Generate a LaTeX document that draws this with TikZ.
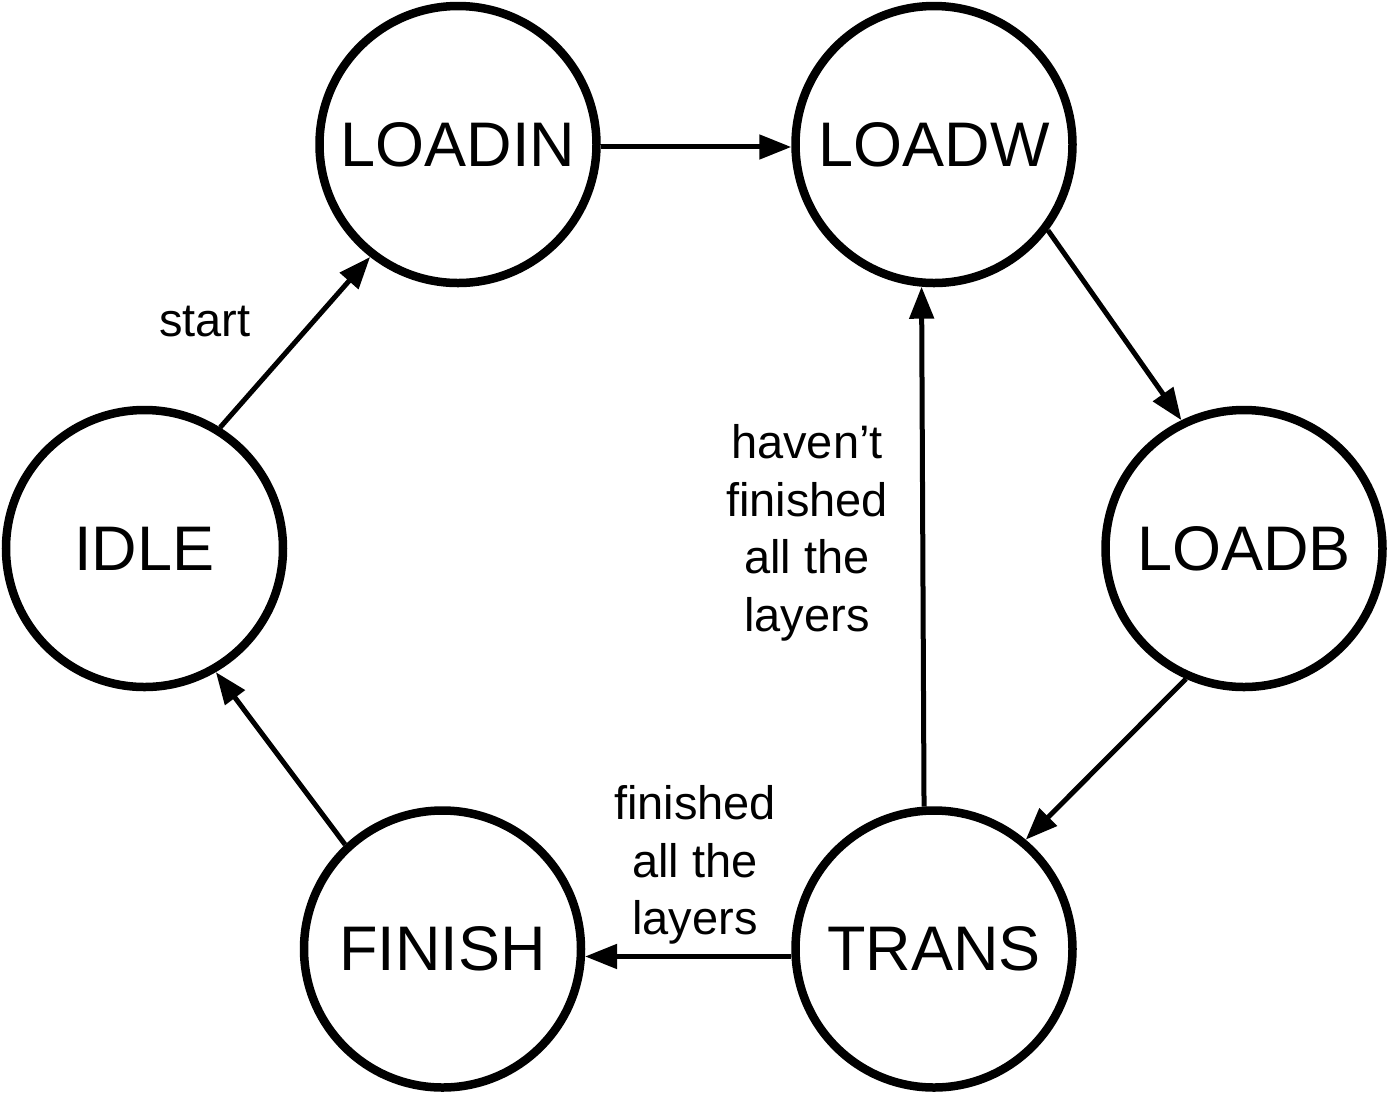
\documentclass[tikz,border=0pt]{standalone}
\usepackage{fontspec}
\setmainfont{Liberation Sans}
\usetikzlibrary{arrows.meta}
\tikzset{
  state/.style={circle, draw=black, line width=4.25pt, minimum size=138.5pt, inner sep=0pt,
    font=\fontsize{31.5}{36}\selectfont},
  conn/.style={line width=2.5pt, -{Triangle[length=16pt,width=12pt]}},
  lbl/.style={align=center, inner sep=0pt, font=\fontsize{23.5}{28.75}\selectfont}
}
\begin{document}
\begin{tikzpicture}[x=0.5pt,y=-0.5pt]
\useasboundingbox[fill=white] (0,0) rectangle (1388,1094);
\node[state] (IDLE)   at (144.5,548.5) {IDLE};
\node[state] (LOADIN) at (458,144.5) {LOADIN};
\node[state] (LOADW)  at (934,144.5) {LOADW};
\node[state] (LOADB)  at (1244,548.5) {LOADB};
\node[state] (TRANS)  at (934,949) {TRANS};
\node[state] (FINISH) at (442.5,949) {FINISH};

\draw[conn] (IDLE.58.8) -- (LOADIN.232.2);
\draw[conn] (LOADIN.-1) -- (LOADW.181);
\draw[conn] (LOADW.-37.1) -- (LOADB.116.5);
\draw[conn] (LOADB.246.9) -- (TRANS.50.2);
\draw[conn] (TRANS.94.4) -- (LOADW.265.6);
\draw[conn] (TRANS.183.6) -- (FINISH.-3.6);
\draw[conn] (FINISH.133.3) -- (IDLE.-60.5);

\node[lbl] (lstart) at (205,322) {start};
\node[lbl] (lhaven) at (807,533) {haven’t\\finished\\all the\\layers};
\node[lbl] (lfin) at (695,865) {finished\\all the\\layers};
\end{tikzpicture}
\end{document}
